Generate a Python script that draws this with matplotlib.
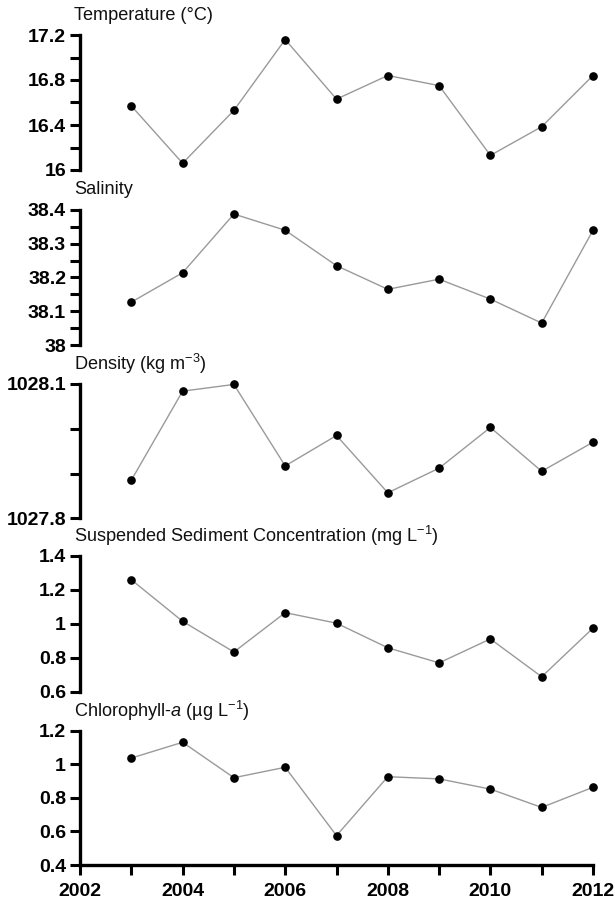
import matplotlib
matplotlib.use("Agg")
import matplotlib.pyplot as plt
from matplotlib.ticker import FixedLocator

plt.rcParams["font.family"] = ["Liberation Sans", "DejaVu Sans"]
plt.rcParams["mathtext.fontset"] = "custom"
plt.rcParams["mathtext.rm"] = "Liberation Sans"
plt.rcParams["mathtext.it"] = "Liberation Sans:italic"
plt.rcParams["mathtext.bf"] = "Liberation Sans:bold"

years = [2003, 2004, 2005, 2006, 2007, 2008, 2009, 2010, 2011, 2012]

temperature = [16.57, 16.06, 16.53, 17.16, 16.63, 16.84, 16.75, 16.13, 16.385, 16.84]
salinity = [38.127, 38.214, 38.388, 38.34, 38.235, 38.165, 38.195, 38.136, 38.065, 38.34]
density = [1027.885, 1028.084, 1028.099, 1027.917, 1027.985, 1027.857, 1027.912, 1028.003, 1027.905, 1027.970]
ssc = [1.26, 1.015, 0.834, 1.066, 1.004, 0.859, 0.77, 0.911, 0.688, 0.975]
chlorophyll = [1.037, 1.131, 0.92, 0.982, 0.575, 0.926, 0.913, 0.852, 0.743, 0.863]

titles = [
    "Temperature (°C)",
    "Salinity",
    "Density (kg m$^{-3}$)",
    "Suspended Sediment Concentration (mg L$^{-1}$)",
    "Chlorophyll-$a$ (µg L$^{-1}$)",
]
series = [temperature, salinity, density, ssc, chlorophyll]

y_limits = [(16.0, 17.2), (38.0, 38.4), (1027.8, 1028.1), (0.6, 1.4), (0.4, 1.2)]
y_major = [
    [16, 16.4, 16.8, 17.2],
    [38, 38.1, 38.2, 38.3, 38.4],
    [1027.8, 1028.1],
    [0.6, 0.8, 1.0, 1.2, 1.4],
    [0.4, 0.6, 0.8, 1.0, 1.2],
]
y_labels = [
    ["16", "16.4", "16.8", "17.2"],
    ["38", "38.1", "38.2", "38.3", "38.4"],
    ["1027.8", "1028.1"],
    ["0.6", "0.8", "1", "1.2", "1.4"],
    ["0.4", "0.6", "0.8", "1", "1.2"],
]
y_minor = [
    [16.2, 16.6, 17.0],
    [38.05, 38.15, 38.25, 38.35],
    [1027.9, 1028.0],
    [],
    [],
]

x_major = [2002, 2004, 2006, 2008, 2010, 2012]
x_minor = [2003, 2005, 2007, 2009, 2011]

W, H = 615, 901
fig = plt.figure(figsize=(W / 100, H / 100), dpi=100)

left_px, right_px = 80, 593
panel_px = [(35, 170), (210, 345), (384, 518.3), (556, 691.7), (730.7, 865)]

tick_kw = dict(length=7, width=2.2, color="black")
for i, (top, bot) in enumerate(panel_px):
    ax = fig.add_axes([left_px / W, 1 - bot / H, (right_px - left_px) / W, (bot - top) / H])
    ax.plot(years, series[i], color="#9a9a9a", lw=1.0, zorder=2, clip_on=False)
    ax.plot(years, series[i], "o", color="black", ms=5.2, zorder=3, clip_on=False)
    ax.set_xlim(2002, 2012)
    ax.set_ylim(*y_limits[i])

    for side in ("top", "right"):
        ax.spines[side].set_visible(False)
    ax.spines["left"].set_linewidth(2.4)

    ax.yaxis.set_major_locator(FixedLocator(y_major[i]))
    ax.set_yticklabels(y_labels[i], fontsize=14, fontweight="bold")
    ax.yaxis.set_minor_locator(FixedLocator(y_minor[i]))
    ax.tick_params(axis="y", which="both", direction="out", pad=3, **tick_kw)

    if i < 4:
        ax.spines["bottom"].set_visible(False)
        ax.set_xticks([])
    else:
        ax.spines["bottom"].set_linewidth(2.4)
        ax.xaxis.set_major_locator(FixedLocator(x_major))
        ax.xaxis.set_minor_locator(FixedLocator(x_minor))
        ax.set_xticklabels([str(x) for x in x_major], fontsize=14, fontweight="bold")
        ax.tick_params(axis="x", which="both", direction="out", pad=6, **tick_kw)

    fig.text(74 / W, 1 - (top - 20) / H, titles[i], fontsize=13.1,
             ha="left", va="center", color="#111111")

fig.savefig("out.png", dpi=100, facecolor="white")
